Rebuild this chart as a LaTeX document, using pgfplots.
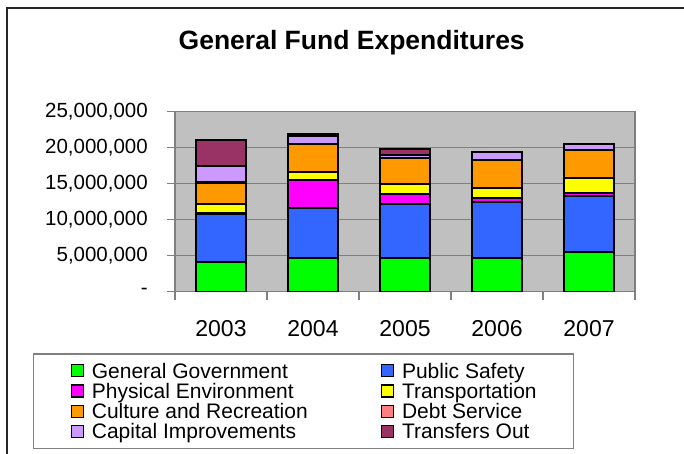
\documentclass[border=0pt]{standalone}
\usepackage{fontspec}
\setmainfont{Liberation Sans}
\usepackage{pgfplots}
\pgfplotsset{compat=1.18}
\definecolor{cGG}{HTML}{00FF00}
\definecolor{cPS}{HTML}{3366FF}
\definecolor{cPE}{HTML}{FF00FF}
\definecolor{cTR}{HTML}{FFFF00}
\definecolor{cCR}{HTML}{FF9900}
\definecolor{cDS}{HTML}{FF8080}
\definecolor{cCI}{HTML}{CC99FF}
\definecolor{cTO}{HTML}{993366}
\definecolor{bggray}{HTML}{C0C0C0}
\definecolor{ggray}{HTML}{808080}
\begin{document}
\begin{tikzpicture}[x=1bp,y=1bp]
\useasboundingbox (0,0) rectangle (684,-454);
\draw[line width=1.3bp, black!85] (7,-8) rectangle (720,-480);
\node[font=\fontsize{26.5bp}{31bp}\selectfont\bfseries, anchor=base, inner sep=0pt] at (351.7,-49.3) {General Fund Expenditures};
\begin{axis}[
  at={(175bp,-291.7bp)}, anchor=south west,
  scale only axis, width=460bp, height=180bp,
  xmin=-0.5, xmax=4.5, ymin=0, ymax=25000000,
  ybar stacked, bar width=0.545,
  axis background/.style={fill=bggray},
  axis line style={draw=ggray, line width=1.3bp},
  ymajorgrids, grid style={draw=ggray, line width=1.3bp},
  ytick={0,5000000,10000000,15000000,20000000,25000000},
  yticklabels={{-},{5,000,000},{10,000,000},{15,000,000},{20,000,000},{25,000,000}},
  xtick={0,1,2,3,4}, xticklabels={2003,2004,2005,2006,2007},
  minor xtick={-0.5,0.5,1.5,2.5,3.5,4.5},
  tick align=outside, tick pos=left,
  major tick length=8bp, minor tick length=8bp,
  major x tick style={draw=none},
  minor x tick style={draw=ggray, line width=1.3bp},
  y tick style={draw=ggray, line width=1.3bp},
  scaled y ticks=false,
  xticklabel style={font=\fontsize{23bp}{27bp}\selectfont, inner sep=0pt, anchor=base, yshift=-37bp},
  yticklabel style={font=\fontsize{20.5bp}{24bp}\selectfont, inner sep=0pt, anchor=east, xshift=-19bp},
  every axis plot/.append style={draw=black, line width=2.2bp},
  legend columns=2,
  legend cell align=left,
  legend image code/.code={\draw[#1, line width=1.2bp] (0bp,-6bp) rectangle (12bp,6bp);},
  legend style={
    at={(-0.3087,-0.3428)}, anchor=north west,
    draw=ggray, line width=1.3bp,
    inner xsep=37bp, inner ysep=6.5bp,
    column sep=8bp,
    /tikz/every even column/.append style={column sep=73bp},
    nodes={font=\fontsize{21bp}{24bp}\selectfont, inner sep=0pt, outer sep=0pt, text height=17.5bp, text depth=2.8bp, anchor=west},
    column 4/.style={nodes={text width=204bp, align=left}},
  },
]
\addplot[fill=cGG] coordinates {(0,4170000) (1,4640000) (2,4640000) (3,4640000) (4,5510000)};
\addplot[fill=cPS] coordinates {(0,6650000) (1,7030000) (2,7540000) (3,7820000) (4,7780000)};
\addplot[fill=cPE] coordinates {(0,150000) (1,3840000) (2,1390000) (3,510000) (4,460000)};
\addplot[fill=cTR] coordinates {(0,1200000) (1,1160000) (2,1390000) (3,1430000) (4,2040000)};
\addplot[fill=cCR] coordinates {(0,3000000) (1,3800000) (2,3570000) (3,3890000) (4,3890000)};
\addplot[fill=cDS] coordinates {(0,0) (1,0) (2,0) (3,0) (4,0)};
\addplot[fill=cCI] coordinates {(0,2270000) (1,1160000) (2,450000) (3,1110000) (4,830000)};
\addplot[fill=cTO] coordinates {(0,3600000) (1,200000) (2,800000) (3,0) (4,0)};
\legend{General Government, Public Safety, Physical Environment, Transportation, Culture and Recreation, Debt Service, Capital Improvements, Transfers Out}
\end{axis}
\end{tikzpicture}
\end{document}
